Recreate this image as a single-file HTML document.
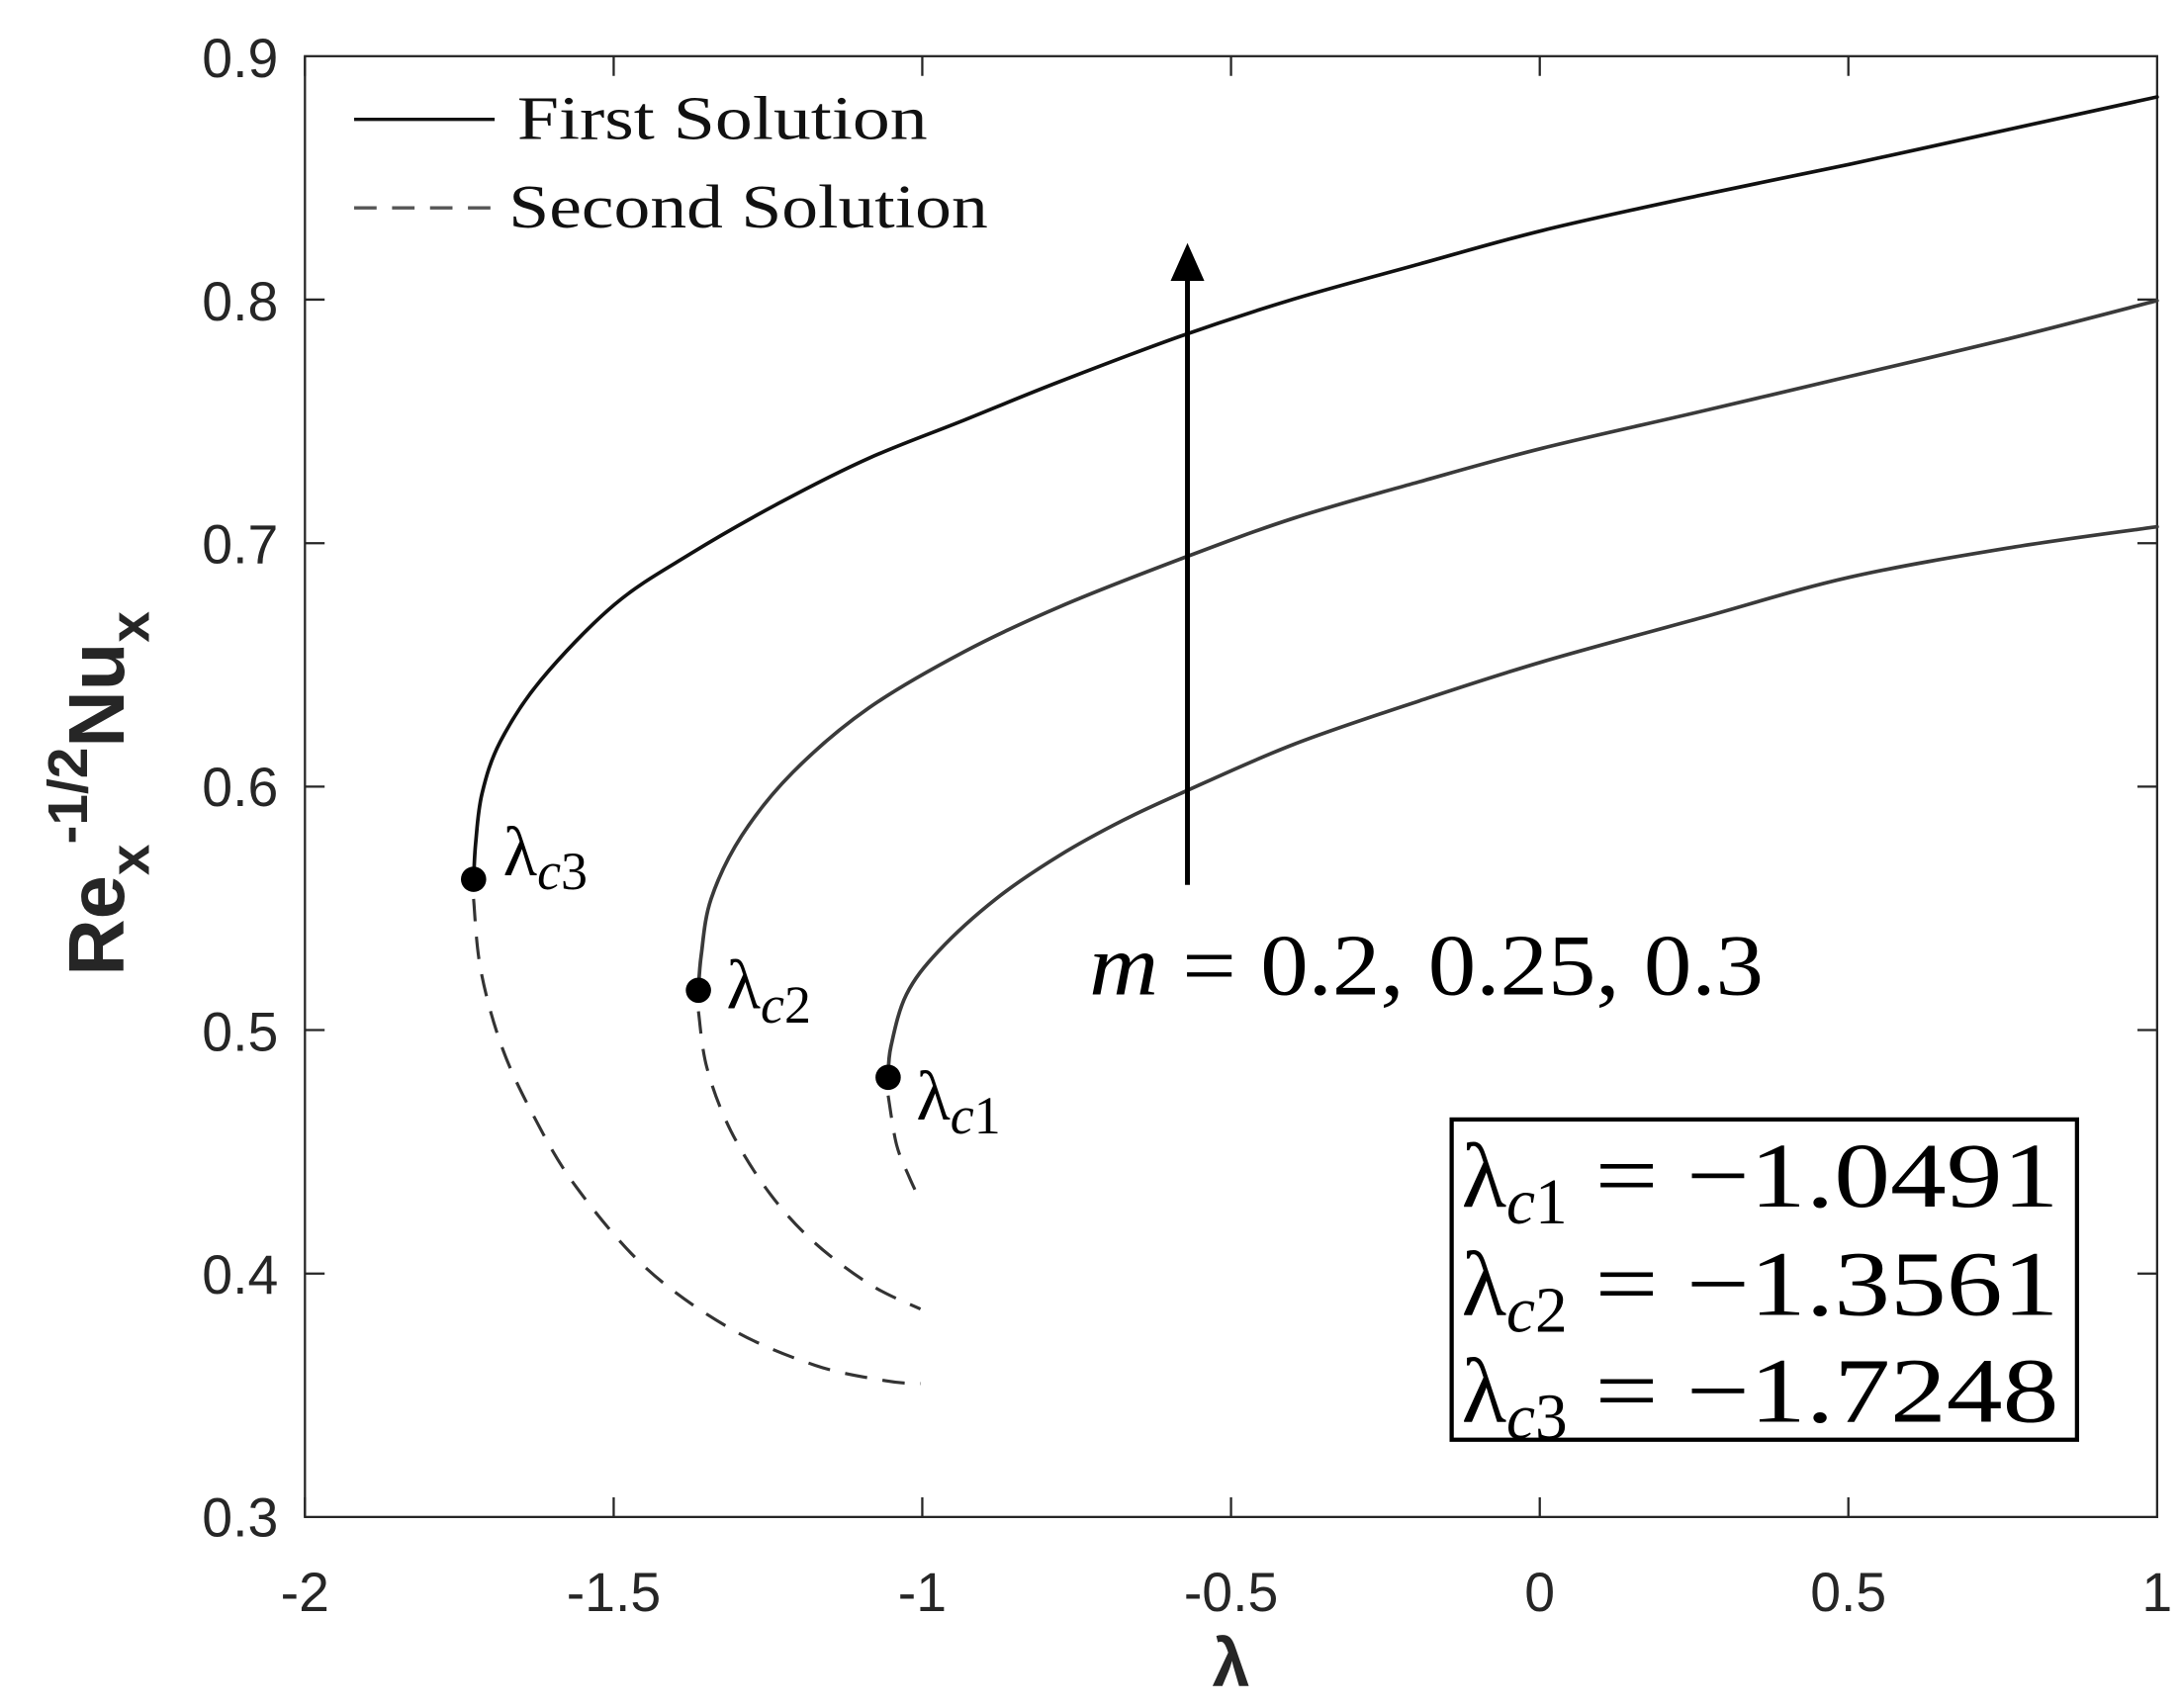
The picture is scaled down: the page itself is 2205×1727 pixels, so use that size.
<!DOCTYPE html>
<html><head><meta charset="utf-8"><style>html,body{margin:0;padding:0;background:#fff}svg{display:block}</style></head>
<body>
<svg id="s" width="2205" height="1727" viewBox="0 0 1552 1216" preserveAspectRatio="none" xmlns="http://www.w3.org/2000/svg">
<rect width="1552" height="1216" fill="#fff"/>
<g stroke="#262626" stroke-width="1.6" fill="none">
<rect x="217" y="40" width="1318" height="1040"/>
<path d="M217,1080v-14M436.7,1080v-14M656.3,1080v-14M876,1080v-14M1095.7,1080v-14M1315.3,1080v-14M217,40v14M436.7,40v14M656.3,40v14M876,40v14M1095.7,40v14M1315.3,40v14"/>
<path d="M217,906.7h14M217,733.3h14M217,560h14M217,386.7h14M217,213.3h14M1535,906.7h-14M1535,733.3h-14M1535,560h-14M1535,386.7h-14M1535,213.3h-14"/>
</g>
<g font-family="Liberation Sans, sans-serif" font-size="39" fill="#262626">
<g text-anchor="end">
<text x="198" y="1094">0.3</text><text x="198" y="921">0.4</text><text x="198" y="748">0.5</text><text x="198" y="574">0.6</text><text x="198" y="401">0.7</text><text x="198" y="228">0.8</text><text x="198" y="55">0.9</text>
</g>
<g text-anchor="middle">
<text x="217" y="1147">-2</text><text x="436.7" y="1147">-1.5</text><text x="656.3" y="1147">-1</text><text x="876" y="1147">-0.5</text><text x="1095.7" y="1147">0</text><text x="1315.3" y="1147">0.5</text><text x="1535" y="1147">1</text>
</g>
</g>
<text x="876" y="1200" text-anchor="middle" font-family="Liberation Sans, sans-serif" font-weight="bold" font-size="48" fill="#262626">λ</text>
<g transform="translate(88,565) rotate(-90)" font-family="Liberation Sans, sans-serif" font-weight="bold" fill="#262626">
<text x="0" y="0" text-anchor="middle" font-size="56">Re<tspan font-size="40" dy="18">x</tspan><tspan font-size="40" dy="-44">-1/2</tspan><tspan font-size="56" dy="26">Nu</tspan><tspan font-size="40" dy="18">x</tspan></text>
</g>
<g fill="none" stroke-width="2.6" stroke-linejoin="round" stroke-linecap="round">
<path id="c3" stroke="#111"/>
<path id="c2" stroke="#3a3a3a"/>
<path id="c1" stroke="#3a3a3a"/>
</g>
<g fill="none" stroke="#333" stroke-width="2.2" stroke-dasharray="16,11">
<path id="d3"/><path id="d2"/><path id="d1"/>
</g>
<g fill="#000">
<circle cx="337" cy="626" r="9"/><circle cx="497" cy="705" r="9"/><circle cx="632" cy="767" r="9"/>
</g>
<line x1="845" y1="630" x2="845" y2="190" stroke="#000" stroke-width="3.5"/>
<polygon points="845,173 833,200 857,200" fill="#000"/>
<g font-family="Liberation Serif, serif" fill="#000">
<text x="358" y="623" font-size="50">λ<tspan font-style="italic" font-size="38" dy="10">c</tspan><tspan font-size="38">3</tspan></text>
<text x="517" y="718" font-size="50">λ<tspan font-style="italic" font-size="38" dy="10">c</tspan><tspan font-size="38">2</tspan></text>
<text x="652" y="797" font-size="50">λ<tspan font-style="italic" font-size="38" dy="10">c</tspan><tspan font-size="38">1</tspan></text>
<text x="775" y="708" font-size="62" textLength="480" lengthAdjust="spacingAndGlyphs"><tspan font-style="italic">m</tspan> = 0.2, 0.25, 0.3</text>
</g>
<line x1="252" y1="85" x2="352" y2="85" stroke="#111" stroke-width="2.4"/>
<line x1="252" y1="148" x2="352" y2="148" stroke="#555" stroke-width="2.4" stroke-dasharray="16,11"/>
<g font-family="Liberation Serif, serif" font-size="44" fill="#111">
<text x="368" y="99" textLength="292" lengthAdjust="spacingAndGlyphs">First Solution</text>
<text x="362" y="162" textLength="341" lengthAdjust="spacingAndGlyphs">Second Solution</text>
</g>
<rect x="1033" y="797" width="445" height="228" fill="#fff" stroke="#000" stroke-width="3"/>
<g font-family="Liberation Serif, serif" font-size="66" fill="#000">
<text x="1040" y="859">λ<tspan font-style="italic" font-size="46" dy="12">c</tspan><tspan font-size="46">1</tspan><tspan dy="-12" x="1135" textLength="330" lengthAdjust="spacingAndGlyphs">= −1.0491</tspan></text>
<text x="1040" y="936">λ<tspan font-style="italic" font-size="46" dy="12">c</tspan><tspan font-size="46">2</tspan><tspan dy="-12" x="1135" textLength="330" lengthAdjust="spacingAndGlyphs">= −1.3561</tspan></text>
<text x="1040" y="1012">λ<tspan font-style="italic" font-size="46" dy="12">c</tspan><tspan font-size="46">3</tspan><tspan dy="-12" x="1135" textLength="330" lengthAdjust="spacingAndGlyphs">= −1.7248</tspan></text>
</g>
</svg>
<script>
function cr(p){var d="M"+p[0][0]+","+p[0][1];for(var i=0;i<p.length-1;i++){var a=p[i-1]||p[i],b=p[i],c=p[i+1],e=p[i+2]||c;
d+=" C"+(b[0]+(c[0]-a[0])/6).toFixed(1)+","+(b[1]+(c[1]-a[1])/6).toFixed(1)+" "+(c[0]-(e[0]-b[0])/6).toFixed(1)+","+(c[1]-(e[1]-b[1])/6).toFixed(1)+" "+c[0]+","+c[1];}return d;}
function P(s){return s.trim().split(/\s+/).map(function(t){return t.split(",").map(Number);});}
var D={
c3:"337,626 338.5,600 343,565 356,528 385,484 437.4,430.3 491.6,394.1 554.9,357.9 618.3,326.2 686.1,299.1 754,271.7 839.9,239.4 920.4,213 1010,188 1098,164 1210,139 1316,117 1430,92 1535,69",
c2:"497,705 499,680 506,640 527.8,595 564,550 618.3,504 686.1,464 754,432 839.9,398 920.4,369 1010,343 1098,319 1210,293 1316,268 1430,241 1535,214",
c1:"632,767 634,745 645,708 668,677 708.7,640 754,609 799.2,584 839.9,565 920.4,530 1010,499 1098,471 1210,440 1316,411 1430,390 1535,375",
d3:"337,640 342,690 357,745 380,795 410,845 460,903 520,946 580,972 630,983 655,985",
d2:"497,720 503,760 520,805 548,850 580,885 620,915 655,932",
d1:"632,780 638,815 647,838 655,855"};
for(var k in D)document.getElementById(k).setAttribute("d",cr(P(D[k])));
</script>
</body></html>
